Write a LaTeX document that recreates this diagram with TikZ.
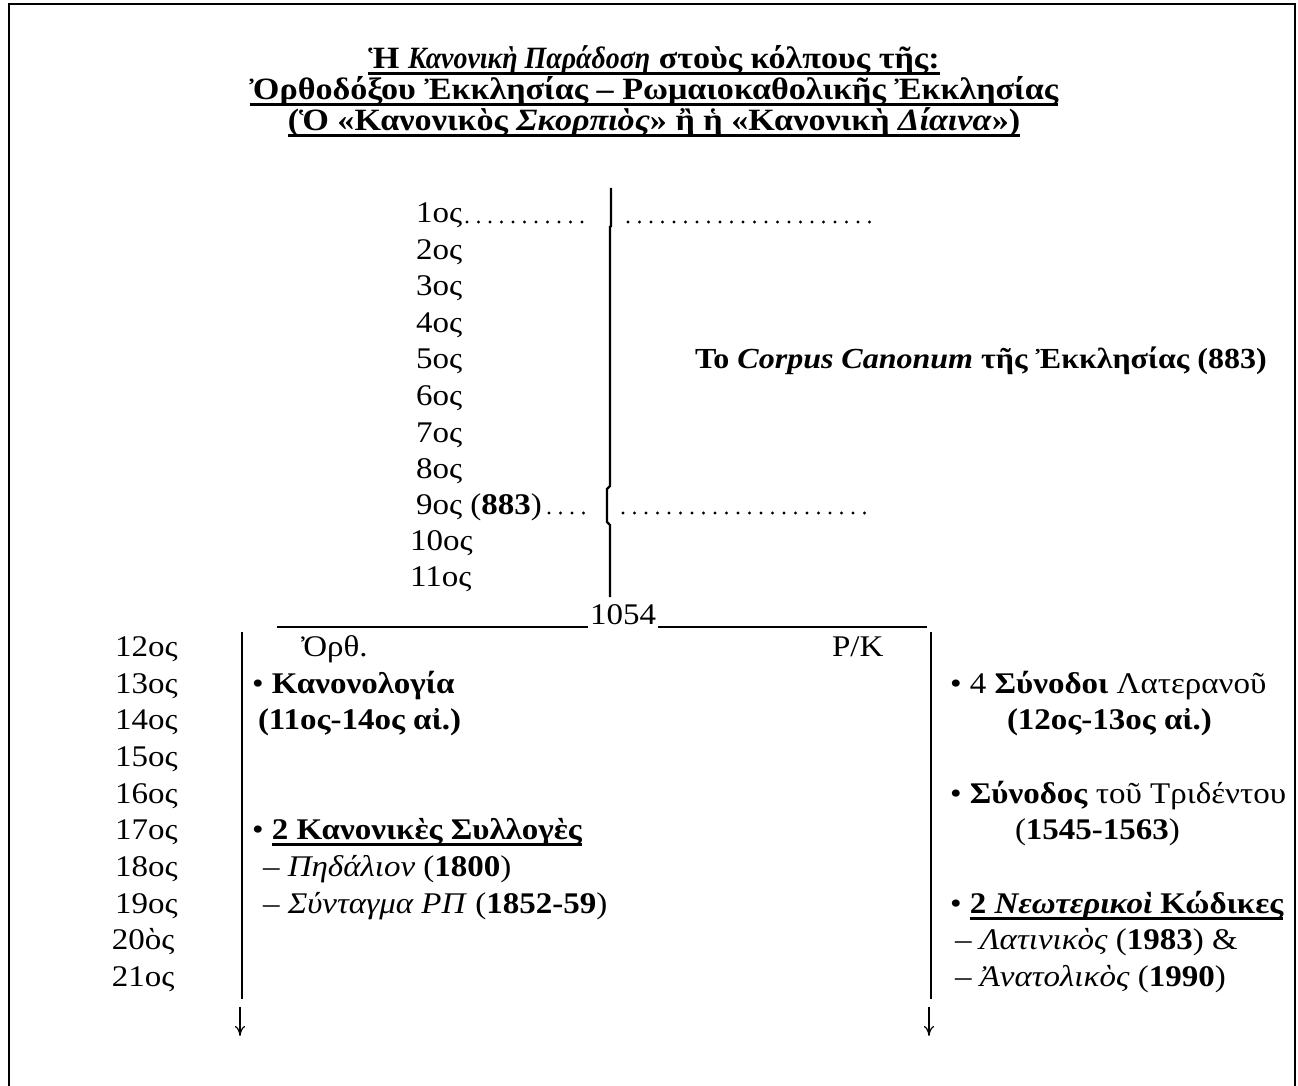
\documentclass[tikz,border=0pt]{standalone}
\usepackage{fontspec}
\setmainfont{Liberation Serif}[FakeStretch=1.1]
\newfontfamily\ttlitfont{Liberation Serif}[FakeStretch=0.9]
\usetikzlibrary{arrows.meta}
\begin{document}
\begin{tikzpicture}[x=0.5pt,y=-0.5pt,
  every node/.style={inner sep=0pt,outer sep=0pt,font=\fontsize{15}{18}\selectfont},
  lbl/.style={anchor=base west},
  boldlbl/.style={anchor=base west,font=\fontsize{15}{18}\selectfont\bfseries},
  ttl/.style={anchor=base,font=\fontsize{15.5}{18}\selectfont\bfseries},
  vline/.style={line width=1.1pt},
  uline/.style={line width=1.5pt},
  dotline/.style={line width=1.6pt,line cap=round,dash pattern=on 0pt off 5.75pt},
  downarrow/.style={line width=0.6pt,-{To[length=5pt,width=5pt]}},
  frame/.style={line width=1.3pt}]
\useasboundingbox (0,0) rectangle (1298,1086);
\draw[frame] (9,1086) -- (9,4) -- (1295,4) -- (1295,1086);
% title
\node[ttl] (t1) at (654,69) {Ἡ {\ttlitfont\bfseries\itshape Κανονικὴ Παράδοση} στοὺς κόλπους τῆς:};
\node[ttl] (t2) at (654,100) {Ὀρθοδόξου Ἐκκλησίας – Ρωμαιοκαθολικῆς Ἐκκλησίας};
\node[ttl] (t3) at (654,131) {(Ὁ «Κανονικὸς \textit{Σκορπιὸς}» ἢ ἡ «Κανονικὴ \textit{Δίαινα}»)};
\foreach \t in {t1,t2,t3}
  \draw[uline] ([yshift=-2.4pt]\t.base west) -- ([yshift=-2.4pt]\t.base east);
% upper centuries
\node[lbl] (c1) at (416,223) {1ος};
\node[lbl] (c2) at (416,259.5) {2ος};
\node[lbl] (c3) at (416,296) {3ος};
\node[lbl] (c4) at (416,332.5) {4ος};
\node[lbl] (c5) at (416,369) {5ος};
\node[lbl] (c6) at (416,405.5) {6ος};
\node[lbl] (c7) at (416,442) {7ος};
\node[lbl] (c8) at (416,478.5) {8ος};
\node[lbl] (c9) at (416,514) {9ος (\textbf{883})};
\node[lbl] (c10) at (410,550) {10ος};
\node[lbl] (c11) at (410,586) {11ος};
% dotted leaders
\coordinate (d1a) at (467,222); \coordinate (d1b) at (592,222);
\coordinate (d1c) at (628,222); \coordinate (d1d) at (873,222);
\coordinate (d9a) at (549,513); \coordinate (d9b) at (590,513);
\coordinate (d9c) at (623,513); \coordinate (d9d) at (872,513);
\draw[dotline] (d1a) -- (d1b);
\draw[dotline] (d1c) -- (d1d);
\draw[dotline] (d9a) -- (d9b);
\draw[dotline] (d9c) -- (d9d);
% upper vertical line
\coordinate (u0) at (611,188);
\coordinate (u1) at (610,597);
\draw[vline] (u0) -- (611,226) -- (610,227) -- (610,486) -- (607,489) -- (607,522) -- (610,525) -- (u1);
\node[lbl,font=\fontsize{14.55}{17}\selectfont\bfseries] (corpus) at (695,369) {Το \textit{Corpus Canonum} τῆς Ἐκκλησίας (883)};
% 1054 split
\node[anchor=base] (y1054) at (623,624) {1054};
\coordinate (s0) at (277,627); \coordinate (s1) at (927,627);
\draw[line width=0.75pt] (s0) -- ([xshift=-1pt]y1054.base west |- s0);
\draw[line width=0.75pt] ([xshift=1pt]y1054.base east |- s0) -- (s1);
% lower centuries
\node[lbl] (c12) at (115,656) {12ος};
\node[lbl] (c13) at (115,693) {13ος};
\node[lbl] (c14) at (115,729) {14ος};
\node[lbl] (c15) at (115,766) {15ος};
\node[lbl] (c16) at (115,803) {16ος};
\node[lbl] (c17) at (115,839) {17ος};
\node[lbl] (c18) at (115,876) {18ος};
\node[lbl] (c19) at (115,913) {19ος};
\node[lbl] (c20) at (112,949) {20ὸς};
\node[lbl] (c21) at (112,986) {21ος};
% lower vertical lines
\coordinate (la) at (242,632); \coordinate (lb) at (242,999);
\coordinate (ra) at (931,632); \coordinate (rb) at (931,999);
\draw[vline] (la) -- (lb);
\draw[vline] (ra) -- (rb);
\coordinate (aL0) at (240,1007); \coordinate (aL1) at (240,1036);
\coordinate (aR0) at (929,1007); \coordinate (aR1) at (929,1036);
\draw[downarrow] (aL0) -- (aL1);
\draw[downarrow] (aR0) -- (aR1);
% left column
\node[lbl] (orth) at (301,656) {Ὀρθ.};
\node[lbl] (rk) at (832,656) {Ρ/Κ};
\node[lbl] (kan) at (252,693) {• \textbf{Κανονολογία}};
\node[lbl] (kan2) at (258,729) {\textbf{(11ος-14ος αἰ.)}};
\node[lbl] (syl0) at (252,839) {•};
\node[boldlbl] (syl) at (syl0.base east) {\ 2 Κανονικὲς Συλλογὲς};
\draw[uline] ([xshift=4pt,yshift=-2.5pt]syl.base west) -- ([yshift=-2.5pt]syl.base east);
\node[lbl] (ped) at (263,876) {– \textit{Πηδάλιον} (\textbf{1800})};
\node[lbl] (synt) at (263,913) {– \textit{Σύνταγμα ΡΠ} (\textbf{1852-59})};
% right column
\node[lbl] (lat) at (950,693) {• 4 \textbf{Σύνοδοι} Λατερανοῦ};
\node[lbl] (lat2) at (1007,729) {\textbf{(12ος-13ος αἰ.)}};
\node[lbl] (tri) at (950,803) {• \textbf{Σύνοδος} τοῦ Τριδέντου};
\node[lbl] (tri2) at (1015,839) {(\textbf{1545-1563})};
\node[lbl] (kod0) at (950,913) {•};
\node[boldlbl] (kod) at (kod0.base east) {\ 2 \textit{Νεωτερικοὶ} Κώδικες};
\draw[uline] ([xshift=4pt,yshift=-2.5pt]kod.base west) -- ([yshift=-2.5pt]kod.base east);
\node[lbl] (latc) at (955,949) {– \textit{Λατινικὸς} (\textbf{1983}) \&};
\node[lbl] (anat) at (955,986) {– \textit{Ἀνατολικὸς} (\textbf{1990})};
\end{tikzpicture}
\end{document}
